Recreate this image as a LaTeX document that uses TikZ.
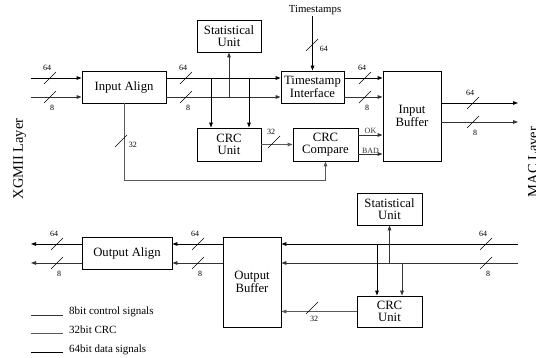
\documentclass[tikz,border=0pt]{standalone}
\usepackage{fontspec}
\setmainfont{Liberation Serif}
\usetikzlibrary{arrows.meta, positioning}

% width marks on the buses
\newcommand{\busup}[2]{\draw[slash] (#1) ++(-6,6) -- ++(12,-12) ++(-9,0) node[above, lbl] {#2};}
\newcommand{\busdown}[2]{\draw[slash] (#1) ++(6,-6) -- ++(-12,12) ++(8,0) node[below, lbl] {#2};}
\newcommand{\busright}[2]{\draw[slash] (#1) ++(-6,6) -- ++(12,-12) ++(0,10) node[right, lbl] {#2};}

\begin{document}
\begin{tikzpicture}[
  x=1pt, y=-1pt,
  box/.style={rectangle, draw, line width=0.9pt, inner sep=1pt, align=center,
              font=\fontsize{12.7}{12.4}\selectfont},
  sig64/.style={line width=0.9pt, black},
  sig8/.style={line width=0.9pt, black!80},
  sig32/.style={line width=0.9pt, black!65},
  arrow/.style={-{Triangle[length=5pt, width=3.6pt]}},
  slash/.style={line width=0.7pt, black},
  lbl/.style={font=\fontsize{8}{8}\selectfont, inner sep=1.5pt},
  layer/.style={rotate=90, anchor=base, font=\fontsize{14.5}{14.5}\selectfont},
  legend/.style={anchor=base west, inner sep=0pt, font=\fontsize{11}{11}\selectfont}
]
  \useasboundingbox (0,0) rectangle (536,358);

  % receive path
  \node[box, minimum width=84, minimum height=32] (ia) at (124,87) {Input Align};
  \node[box, minimum width=64, minimum height=32] (su1) at (229,36) {Statistical\\Unit};
  \node[box, minimum width=64, minimum height=33] (crc1) at (229,144.5) {CRC\\Unit};
  \node[box, minimum width=63, minimum height=32, inner sep=0pt] (ts) at (312.5,87) {Timestamp\\Interface};
  \node[box, minimum width=65, minimum height=33] (cmp) at (325.5,144.5) {CRC\\Compare};
  \node[box, minimum width=58, minimum height=90] (ib) at (412,116) {Input\\Buffer};
  \node[font=\fontsize{10.8}{10.8}\selectfont, inner sep=1pt] (tsl) at (315,10) {Timestamps};

  % transmit path
  \node[box, minimum width=90, minimum height=32] (oa) at (127,253) {Output Align};
  \node[box, minimum width=58, minimum height=90] (ob) at (252,282) {Output\\Buffer};
  \node[box, minimum width=65, minimum height=32] (su2) at (389.5,209) {Statistical\\Unit};
  \node[box, minimum width=65, minimum height=31] (crc2) at (389.5,311.5) {CRC\\Unit};

  \node[layer] (xgmii) at (23,159) {XGMII Layer};
  \node[layer] (mac) at (537.5,162) {MAC Layer};

  \coordinate (in64) at (31,78);
  \coordinate (in8) at (31,97);
  \coordinate (out64) at (518,103);
  \coordinate (out8) at (518,122);
  \coordinate (loop32) at (0,180);
  \coordinate (okline) at (0,135);
  \coordinate (badline) at (0,154);
  \coordinate (d1) at ([xshift=-18pt]crc1.north);
  \coordinate (d2) at ([xshift=20pt]crc1.north);
  \coordinate (oin64) at (518,244);
  \coordinate (oin8) at (518,263);
  \coordinate (oout64) at (31,244);
  \coordinate (oout8) at (31,263);
  \coordinate (d3) at ([xshift=-12.5pt]crc2.north);
  \coordinate (d4) at ([xshift=12.5pt]crc2.north);

  % receive connectors
  \draw[sig64, arrow] (in64) -- (in64 -| ia.west);
  \draw[sig8, arrow] (in8) -- (in8 -| ia.west);
  \draw[sig64, arrow] (ia.east |- in64) -- (ts.west |- in64);
  \draw[sig8, arrow] (ia.east |- in8) -- (ts.west |- in8);
  \draw[sig64, arrow] (d1 |- in64) -- (d1);
  \draw[sig64, arrow] (d2 |- in64) -- (d2);
  \draw[sig8, arrow] (su1.south |- in8) -- (su1.south);
  \draw[sig64, arrow] (tsl.south -| ts.north) -- (ts.north);
  \draw[sig64, arrow] (ts.east |- in64) -- (ib.west |- in64);
  \draw[sig8, arrow] (ts.east |- in8) -- (ib.west |- in8);
  \draw[sig32, arrow] (crc1.east) -- (cmp.west);
  \draw[sig32, arrow] (ia.south) |- (cmp.south |- loop32) -- (cmp.south);
  \draw[sig8, arrow] (cmp.east |- okline) -- (ib.west |- okline)
    node[midway, above, lbl, inner sep=0.5pt] {OK};
  \draw[sig8, arrow] (cmp.east |- badline) -- (ib.west |- badline)
    node[midway, above, lbl, inner sep=0.5pt] {BAD};
  \draw[sig64, arrow] (ib.east |- out64) -- (out64);
  \draw[sig8, arrow] (ib.east |- out8) -- (out8);

  % transmit connectors
  \draw[sig64, arrow] (oin64) -- (ob.east |- oin64);
  \draw[sig8, arrow] (oin8) -- (ob.east |- oin8);
  \draw[sig64, arrow] (ob.west |- oin64) -- (oa.east |- oin64);
  \draw[sig8, arrow] (ob.west |- oin8) -- (oa.east |- oin8);
  \draw[sig64, arrow] (oa.west |- oin64) -- (oout64);
  \draw[sig8, arrow] (oa.west |- oin8) -- (oout8);
  \draw[sig64, arrow] (d3 |- oin64) -- (d3);
  \draw[sig8, arrow] (d4 |- oin8) -- (d4);
  \draw[sig8, arrow] (su2.south |- oin8) -- (su2.south);
  \draw[sig32, arrow] (crc2.west) -- (ob.east |- crc2.west);

  % bus widths
  \busup{50,78}{64}      \busdown{50,97}{8}
  \busup{186,78}{64}     \busdown{186,97}{8}
  \busup{365,78}{64}     \busdown{365,97}{8}
  \busup{473,103}{64}    \busdown{473,122}{8}
  \busright{121,141}{32} \busright{312,45}{64}
  \busup{274,142}{32}
  \busup{57,244}{64}     \busdown{57,263}{8}
  \busup{198,244}{64}    \busdown{198,263}{8}
  \busup{486,244}{64}    \busdown{486,263}{8}
  \busdown{312,308}{32}

  % legend
  \coordinate (l8) at (31,315);
  \coordinate (l32) at (31,333.3);
  \coordinate (l64) at (31,352.3);
  \draw[sig8] (l8) -- ++(32,0);
  \draw[sig32] (l32) -- ++(32,0);
  \draw[sig64] (l64) -- ++(32,0);
  \node[legend] (t8) at (69,315) {8bit control signals};
  \node[legend] (t32) at (69,333.3) {32bit CRC};
  \node[legend] (t64) at (69,352.3) {64bit data signals};
\end{tikzpicture}
\end{document}
